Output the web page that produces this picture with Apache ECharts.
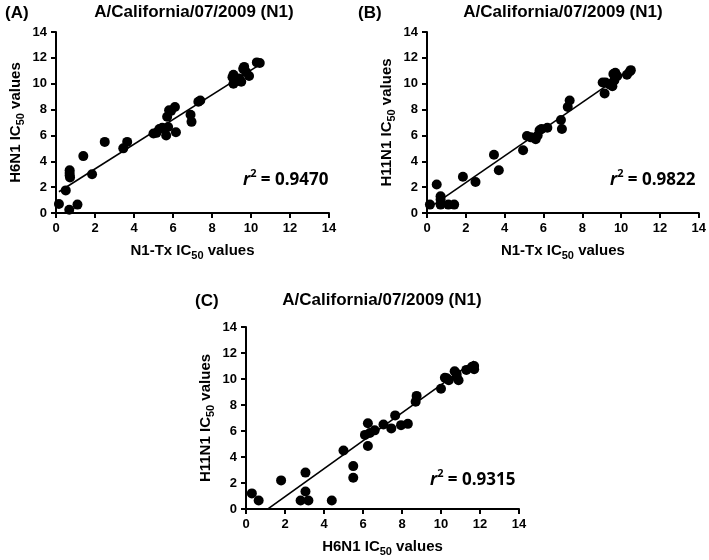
<!DOCTYPE html>
<html>
<head>
<meta charset="utf-8">
<script src="https://cdn.jsdelivr.net/npm/echarts@6/dist/echarts.min.js"></script>
<style>html,body{margin:0;padding:0;background:#fff;}#c{width:709px;height:560px;}</style>
</head>
<body>
<div id="c"></div>
<script>
// ---- data ----
var panelLetters = ['(A)', '(B)', '(C)'];
var panelTitle = 'A/California/07/2009 (N1)';
var xNames = ['N1-Tx', 'N1-Tx', 'H6N1'];
var yNames = ['H6N1', 'H11N1', 'H11N1'];
var r2Values = ['0.9470', '0.9822', '0.9315'];
var axisTicks = [0, 2, 4, 6, 8, 10, 12, 14];

var pointsA = [[0.15,0.7],[0.68,0.25],[1.1,0.65],[0.5,1.75],[0.7,3.3],[0.7,3.1],[0.7,2.9],[0.72,2.75],
  [1.4,4.4],[1.85,3.0],[2.5,5.5],[3.45,5.0],[3.65,5.5],[5.0,6.15],[5.15,6.2],[5.3,6.5],[5.45,6.6],
  [5.65,6.0],[5.75,6.65],[5.7,7.45],[5.8,7.95],[5.9,7.9],[6.1,8.2],[6.15,6.25],[6.9,7.6],[6.95,7.05],
  [7.3,8.6],[7.4,8.7],[9.1,10.7],[9.05,10.5],[9.1,10.0],[9.25,10.3],[9.4,10.4],[9.5,10.15],
  [9.6,11.15],[9.65,11.3],[9.75,10.9],[9.9,10.6],[10.3,11.65],[10.45,11.6]];
var pointsB = [[0.15,0.65],[0.5,2.2],[0.7,1.3],[0.7,1.05],[0.7,0.65],[1.1,0.65],[1.4,0.65],[1.85,2.8],
  [2.5,2.4],[3.45,4.5],[3.7,3.3],[4.95,4.85],[5.15,5.95],[5.35,5.85],[5.6,5.7],[5.7,6.0],[5.8,6.4],
  [5.9,6.5],[6.2,6.6],[6.9,7.2],[6.95,6.5],[7.25,8.2],[7.35,8.7],[9.05,10.1],[9.2,10.1],[9.15,9.25],
  [9.4,9.95],[9.5,10.0],[9.55,9.8],[9.6,10.75],[9.65,10.25],[9.7,10.85],[9.8,10.6],[10.3,10.7],
  [10.45,10.95],[10.5,11.05]];
var pointsC = [[0.3,1.2],[0.65,0.65],[1.8,2.2],[2.8,0.65],[3.05,2.8],[3.05,1.35],[3.2,0.65],[4.4,0.65],
  [5.0,4.5],[5.5,3.3],[5.5,2.4],[6.1,5.7],[6.25,4.85],[6.25,6.6],[6.35,5.85],[6.6,6.05],[7.05,6.5],
  [7.45,6.2],[7.65,7.2],[7.95,6.45],[8.3,6.55],[8.7,8.25],[8.75,8.7],[10.0,9.25],[10.2,10.1],
  [10.3,10.05],[10.4,9.9],[10.7,10.6],[10.8,10.2],[10.8,10.4],[10.9,9.9],[11.3,10.7],[11.6,10.95],
  [11.7,11.0],[11.7,10.75]];
// regression fits: [slope, intercept] and x range of trendline
var fitA = [0.955, 1.5],  rangeA = [0.15, 10.45];
var fitB = [1.035, 0.28], rangeB = [0.15, 10.45];
var fitC = [1.075, -1.2], rangeC = [0.3, 11.7];

// ---- layout / style ----
var FONT = 'Liberation Sans';
var grids = [
  {left: 56, top: 32, width: 273, height: 181},
  {left: 427, top: 32, width: 273, height: 181},
  {left: 246, top: 327, width: 273, height: 182}
];
var points = [pointsA, pointsB, pointsC];
var fits = [fitA, fitB, fitC];
var ranges = [rangeA, rangeB, rangeC];

function fitLine(fit, range) {
  return range.map(function (x) { return [x, fit[0] * x + fit[1]]; });
}
var nameRich = {
  a: {fontFamily: FONT, fontWeight: 'bold', fontSize: 15, color: '#000', lineHeight: 20, verticalAlign: 'middle'},
  s: {fontFamily: FONT, fontWeight: 'bold', fontSize: 11, color: '#000', lineHeight: 12, verticalAlign: 'bottom'}
};
function axisCommon() {
  return {
    type: 'value', min: 0, max: 14, interval: 2,
    axisLine: {show: true, onZero: false, lineStyle: {color: '#000', width: 2}},
    axisTick: {show: true, inside: false, length: 5, lineStyle: {color: '#000', width: 2}},
    splitLine: {show: false},
    axisLabel: {color: '#000', fontFamily: FONT, fontWeight: 'bold', fontSize: 13, margin: 9,
      customValues: axisTicks},
    nameLocation: 'middle'
  };
}
var xAxes = [], yAxes = [], series = [], titles = [];
var letterPos = [[5, 5], [358, 5], [195, 293]];
var titleCenters = [[194, 4], [563, 4], [382, 292]];
var r2Pos = [[243, 168], [610, 168], [430, 468]];
for (var i = 0; i < 3; i++) {
  var xa = axisCommon();
  xa.gridIndex = i;
  xa.name = '{a|' + xNames[i] + ' IC}{s|50}{a| values}';
  xa.nameGap = 28;
  xa.nameTextStyle = {rich: nameRich};
  xAxes.push(xa);
  var ya = axisCommon();
  ya.gridIndex = i;
  ya.name = '{a|' + yNames[i] + ' IC}{s|50}{a| values}';
  ya.nameGap = 30;
  ya.nameTextStyle = {rich: nameRich};
  yAxes.push(ya);
  series.push({
    type: 'scatter', xAxisIndex: i, yAxisIndex: i, data: points[i],
    symbol: 'circle', symbolSize: 10, itemStyle: {color: '#000', opacity: 1}, silent: true
  });
  series.push({
    type: 'line', xAxisIndex: i, yAxisIndex: i, data: fitLine(fits[i], ranges[i]),
    symbol: 'none', clip: true, lineStyle: {color: '#000', width: 1.6}, silent: true, z: 1
  });
  titles.push({
    text: panelLetters[i], left: letterPos[i][0], top: letterPos[i][1],
    textStyle: {fontFamily: FONT, fontWeight: 'bold', fontSize: 17, color: '#000'}, padding: 0
  });
  titles.push({
    text: panelTitle, left: titleCenters[i][0], top: titleCenters[i][1], textAlign: 'center',
    textStyle: {fontFamily: FONT, fontWeight: 'bold', fontSize: 17, color: '#000'}, padding: 0
  });
  titles.push({
    text: '{i|r}{p|2}{n| = ' + r2Values[i] + '}', left: r2Pos[i][0], top: r2Pos[i][1], padding: 0,
    textStyle: {rich: {
      i: {fontFamily: 'Open Sans', fontStyle: 'italic', fontWeight: 'bold', fontSize: 17, color: '#000', lineHeight: 24, verticalAlign: 'middle'},
      p: {fontFamily: 'Open Sans', fontWeight: 'bold', fontSize: 11, color: '#000', lineHeight: 13, verticalAlign: 'top'},
      n: {fontFamily: 'Open Sans', fontWeight: 'bold', fontSize: 17, color: '#000', lineHeight: 24, verticalAlign: 'middle'}
    }}
  });
}

var chart = echarts.init(document.getElementById('c'), null, {renderer: 'canvas'});
chart.setOption({
  backgroundColor: '#fff',
  animation: false,
  title: titles,
  grid: grids,
  xAxis: xAxes,
  yAxis: yAxes,
  series: series
});
</script>
</body>
</html>
